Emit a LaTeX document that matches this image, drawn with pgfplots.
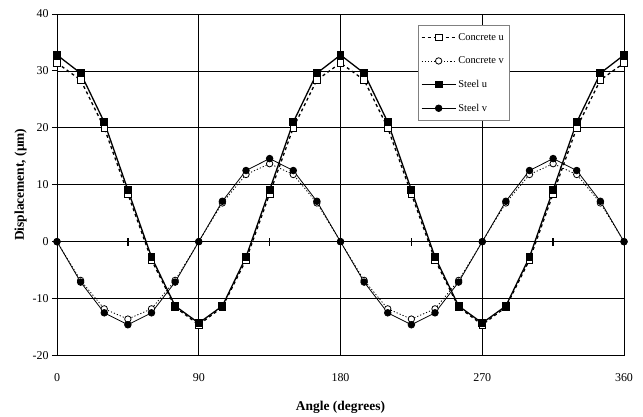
\documentclass[border=0pt]{standalone}
\usepackage{fontspec}
\setmainfont{Liberation Serif}
\usepackage{pgfplots}
\usepackage{pgfplotstable}
\pgfplotsset{compat=1.18}

% displacement around the ring, one value every 15 degrees
\pgfplotstableread{
ang  cu     cv     su     sv
0    31.4   0.0    32.8   0.0
15   28.4  -6.8    29.6  -7.1
30   20.0  -11.8   21.0  -12.5
45   8.4   -13.6   9.1   -14.6
60   -3.2  -11.8   -2.7  -12.5
75   -11.5 -6.8    -11.3 -7.1
90   -14.6  0.0    -14.3  0.0
105  -11.5  6.8    -11.3  7.1
120  -3.2   11.8   -2.7   12.5
135  8.4    13.7   9.1    14.6
150  20.0   11.8   21.0   12.5
165  28.4   6.8    29.6   7.1
180  31.4   0.0    32.8   0.0
195  28.4  -6.8    29.6  -7.1
210  20.0  -11.8   21.0  -12.5
225  8.4   -13.6   9.1   -14.6
240  -3.2  -11.8   -2.7  -12.5
255  -11.5 -6.8    -11.3 -7.1
270  -14.6  0.0    -14.3  0.0
285  -11.5  6.8    -11.3  7.1
300  -3.2   11.8   -2.7   12.5
315  8.4    13.7   9.1    14.6
330  20.0   11.8   21.0   12.5
345  28.4   6.8    29.6   7.1
360  31.4   0.0    32.8   0.0
}\ringdata

\newcommand{\micro}{{\char"03BC}}

\begin{document}
\begin{tikzpicture}
\path (0,0) rectangle (643bp,413bp);
\begin{axis}[
  at={(57bp,57.5bp)}, anchor=south west,
  scale only axis, width=567bp, height=341.5bp,
  xmin=0, xmax=360, ymin=-20, ymax=40,
  xtick={0,90,180,270,360},
  ytick={-20,-10,...,40},
  grid=major, grid style={black, line width=0.7bp},
  axis line style={black, line width=1bp},
  x tick style={draw=none},
  ytick pos=left, y tick style={black, line width=1bp},
  tick align=outside, major tick length=5bp,
  /pgf/number format/assume math mode=true,
  ticklabel style={font=\fontsize{12}{14}\selectfont},
  xticklabel style={yshift=-10bp},
  xlabel={\textbf{Angle (degrees)}},
  ylabel={\textbf{Displacement, (\micro m)}},
  label style={font=\fontsize{13.5}{15}\selectfont},
  xlabel style={yshift=-12bp},
  ylabel style={yshift=-1bp},
  legend style={at={(0.636,0.968)}, anchor=north west,
    draw=gray, line width=0.8bp, fill=white,
    font=\fontsize{10.5}{12}\selectfont,
    row sep=11bp, inner ysep=6bp, inner xsep=3bp},
  legend cell align=left,
  legend image code/.code={%
    \draw[#1, mark=none] (0bp,0bp) -- (34bp,0bp);
    \draw[#1, only marks] plot coordinates {(17bp,0bp)};},
]
\draw[line width=1.6bp] (axis cs:0,0) -- (axis cs:360,0);
\draw[line width=1.6bp] (axis cs:0,-20) -- (axis cs:0,40);
\pgfplotsinvokeforeach{45,135,225,315}{%
  \draw[line width=1.3bp] (axis cs:#1,-0.7) -- (axis cs:#1,0.7);}

\addplot[black, line width=1.3bp, dash pattern=on 3bp off 3bp,
  mark=square*, mark size=3.3bp,
  mark options={solid, fill=white, line width=0.8bp}]
  table[x=ang, y=cu] {\ringdata};
\addlegendentry{Concrete u\hspace{6bp}}
\addplot[black, line width=0.8bp, dash pattern=on 1.2bp off 2bp,
  mark=*, mark size=3.2bp,
  mark options={solid, fill=white, line width=0.8bp}]
  table[x=ang, y=cv] {\ringdata};
\addlegendentry{Concrete v}
\addplot[black, line width=1.3bp,
  mark=square*, mark size=3.3bp, mark options={fill=black}]
  table[x=ang, y=su] {\ringdata};
\addlegendentry{Steel u}
\addplot[black, line width=0.8bp,
  mark=*, mark size=3.3bp, mark options={fill=black}]
  table[x=ang, y=sv] {\ringdata};
\addlegendentry{Steel v}
\end{axis}
\end{tikzpicture}
\end{document}
